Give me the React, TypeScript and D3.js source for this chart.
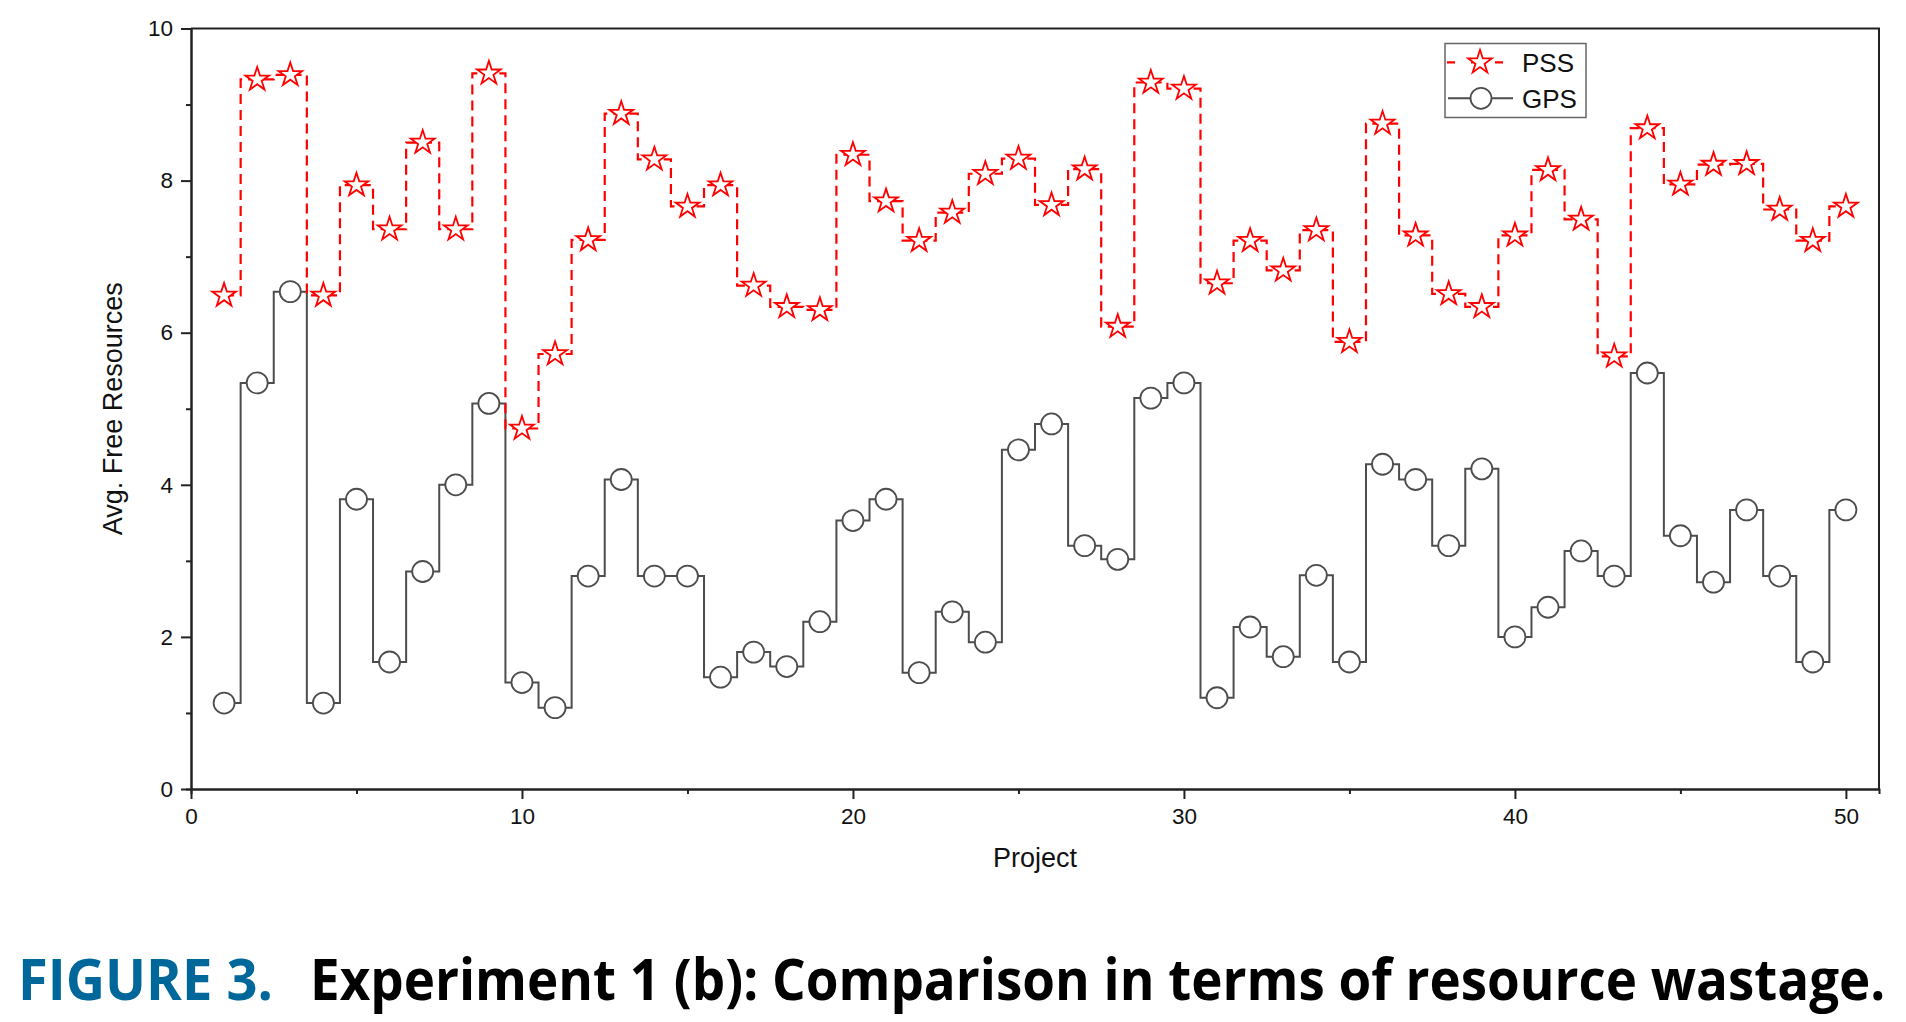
import { useEffect, useRef } from 'react'
import * as d3 from 'd3'

// Avg. free resources per project (projects 1..50)
const pssValues = [
  6.49, 9.33, 9.39, 6.49, 7.94, 7.36, 8.5, 7.36, 9.41, 4.74,
  5.72, 7.22, 8.88, 8.28, 7.66, 7.94, 6.62, 6.34, 6.3, 8.34,
  7.73, 7.21, 7.58, 8.09, 8.29, 7.68, 8.15, 6.08, 9.29, 9.21,
  6.65, 7.21, 6.82, 7.35, 5.88, 8.75, 7.28, 6.51, 6.34, 7.28,
  8.14, 7.49, 5.69, 8.69, 7.95, 8.21, 8.22, 7.62, 7.21, 7.66,
]
const gpsValues = [
  1.13, 5.34, 6.54, 1.13, 3.81, 1.67, 2.86, 4.0, 5.07, 1.4,
  1.07, 2.8, 4.07, 2.8, 2.8, 1.47, 1.8, 1.61, 2.2, 3.53,
  3.81, 1.53, 2.33, 1.93, 4.46, 4.8, 3.2, 3.02, 5.14, 5.34,
  1.2, 2.13, 1.74, 2.81, 1.67, 4.27, 4.07, 3.2, 4.21, 2.0,
  2.39, 3.13, 2.8, 5.47, 3.33, 2.72, 3.67, 2.8, 1.67, 3.67,
]

const xMajorTicks = [0, 10, 20, 30, 40, 50]
const xMinorTicks = [5, 15, 25, 35, 45]
const yMajorTicks = [0, 2, 4, 6, 8, 10]
const yMinorTicks = [1, 3, 5, 7, 9]

const seriesNames = ['PSS', 'GPS']
const xLabel = 'Project'
const yLabel = 'Avg. Free Resources'
const figureLabel = 'FIGURE 3.'
const captionText = 'Experiment 1 (b): Comparison in terms of resource wastage.'

const W = 1906
const H = 1022
const plot = { left: 191, right: 1879, top: 28.5, bottom: 789 }
const axisFont = '"Liberation Sans", Arial, sans-serif'

const ChartFigure = () => {
  const ref = useRef<SVGSVGElement>(null)

  useEffect(() => {
    if (!ref.current) return
    const svg = d3.select(ref.current)
    svg.selectAll('*').remove()

    const x = d3.scaleLinear().domain([0, 51]).range([plot.left, plot.right])
    const y = d3.scaleLinear().domain([0, 10]).range([plot.bottom, plot.top])

    const pss = pssValues.map((v, i) => ({ p: i + 1, v }))
    const gps = gpsValues.map((v, i) => ({ p: i + 1, v }))

    const line = d3
      .line<{ p: number; v: number }>()
      .x((d) => x(d.p))
      .y((d) => y(d.v))
      .curve(d3.curveStep)

    // GPS step line
    svg
      .append('path')
      .attr('d', line(gps))
      .attr('fill', 'none')
      .attr('stroke', '#4d4d4d')
      .attr('stroke-width', 2)

    // PSS dashed step line
    svg
      .append('path')
      .attr('d', line(pss))
      .attr('fill', 'none')
      .attr('stroke', '#ff0000')
      .attr('stroke-width', 2.2)
      .attr('stroke-dasharray', '10 6')

    // circle markers
    svg
      .append('g')
      .selectAll('circle')
      .data(gps)
      .enter()
      .append('circle')
      .attr('cx', (d) => x(d.p))
      .attr('cy', (d) => y(d.v))
      .attr('r', 10.5)
      .attr('fill', '#fff')
      .attr('stroke', '#4d4d4d')
      .attr('stroke-width', 1.8)

    // star markers
    const star = d3.symbol().type(d3.symbolStar).size(175)
    svg
      .append('g')
      .selectAll('path')
      .data(pss)
      .enter()
      .append('path')
      .attr('d', star()!)
      .attr('transform', (d) => `translate(${x(d.p)},${y(d.v)})`)
      .attr('fill', '#fff')
      .attr('stroke', '#ff0000')
      .attr('stroke-width', 1.8)

    // frame top / right
    svg
      .append('path')
      .attr('d', `M${plot.left},${plot.top}H${plot.right}V${plot.bottom}`)
      .attr('fill', 'none')
      .attr('stroke', '#222')
      .attr('stroke-width', 2)

    const styleAxis = (g: d3.Selection<SVGGElement, unknown, null, undefined>) => {
      g.select('.domain').attr('stroke', '#222').attr('stroke-width', 2)
      g.selectAll('.tick line').attr('stroke', '#222').attr('stroke-width', 2)
      g.selectAll('.tick text')
        .attr('fill', '#111')
        .style('font', `22.5px ${axisFont}`)
    }

    // minor ticks first, majors draw the domain on top
    svg
      .append('g')
      .attr('transform', `translate(0,${plot.bottom})`)
      .call(d3.axisBottom(x).tickValues(xMinorTicks).tickSize(5).tickFormat(() => ''))
      .call(styleAxis)
    svg
      .append('g')
      .attr('transform', `translate(${plot.left},0)`)
      .call(d3.axisLeft(y).tickValues(yMinorTicks).tickSize(5).tickFormat(() => ''))
      .call(styleAxis)

    svg
      .append('g')
      .attr('transform', `translate(0,${plot.bottom})`)
      .call(d3.axisBottom(x).tickValues(xMajorTicks).tickSize(10).tickPadding(9).tickSizeOuter(0))
      .call(styleAxis)
    svg
      .append('g')
      .attr('transform', `translate(${plot.left},0)`)
      .call(d3.axisLeft(y).tickValues(yMajorTicks).tickSize(10).tickPadding(8).tickSizeOuter(0))
      .call(styleAxis)

    // axis titles
    svg
      .append('text')
      .attr('x', (plot.left + plot.right) / 2)
      .attr('y', 867)
      .attr('text-anchor', 'middle')
      .attr('fill', '#111')
      .style('font', `27px ${axisFont}`)
      .text(xLabel)

    svg
      .append('text')
      .attr('transform', 'rotate(-90)')
      .attr('x', -(plot.top + plot.bottom) / 2)
      .attr('y', 122)
      .attr('text-anchor', 'middle')
      .attr('fill', '#111')
      .style('font', `27px ${axisFont}`)
      .text(yLabel)

    // legend
    const lg = svg.append('g').attr('transform', 'translate(1445,43.5)')
    lg.append('rect')
      .attr('width', 141)
      .attr('height', 74)
      .attr('fill', '#fff')
      .attr('stroke', '#666')
      .attr('stroke-width', 1.5)

    const rows = [18.8, 54.8]
    lg.append('line')
      .attr('x1', 2)
      .attr('x2', 68)
      .attr('y1', rows[0])
      .attr('y2', rows[0])
      .attr('stroke', '#ff0000')
      .attr('stroke-width', 2.2)
      .attr('stroke-dasharray', '8 16')
    lg.append('path')
      .attr('d', star()!)
      .attr('transform', `translate(35,${rows[0]})`)
      .attr('fill', '#fff')
      .attr('stroke', '#ff0000')
      .attr('stroke-width', 1.8)

    lg.append('line')
      .attr('x1', 3)
      .attr('x2', 68)
      .attr('y1', rows[1])
      .attr('y2', rows[1])
      .attr('stroke', '#4d4d4d')
      .attr('stroke-width', 2)
    lg.append('circle')
      .attr('cx', 36)
      .attr('cy', rows[1])
      .attr('r', 10.5)
      .attr('fill', '#fff')
      .attr('stroke', '#4d4d4d')
      .attr('stroke-width', 1.8)

    lg.selectAll('text.lbl')
      .data(seriesNames)
      .enter()
      .append('text')
      .attr('class', 'lbl')
      .attr('x', 77)
      .attr('y', (_d, i) => rows[i])
      .attr('dy', '0.36em')
      .attr('fill', '#111')
      .style('font', `26px ${axisFont}`)
      .text((d) => d)

    // caption, squeezed horizontally to a condensed look
    const capFont = `bold 58px "Open Sans", "Noto Sans", sans-serif`
    const addCaption = (txt: string, x0: number, width: number, color: string) => {
      const t = svg
        .append('text')
        .attr('x', 0)
        .attr('y', 0)
        .attr('fill', color)
        .style('font', capFont)
        .text(txt)
      const natural = (t.node() as SVGTextElement).getComputedTextLength() || width
      t.attr('transform', `translate(${x0},1000) scale(${width / natural},1)`)
    }
    addCaption(figureLabel, 18, 255, '#00679a')
    addCaption(captionText, 310, 1576, '#000')
  }, [])

  return <svg ref={ref} width={W} height={H} style={{ display: 'block', background: '#fff' }} />
}

export default function App() {
  return (
    <div>
      <style>{'body{margin:0;background:#fff}'}</style>
      <ChartFigure />
    </div>
  )
}
